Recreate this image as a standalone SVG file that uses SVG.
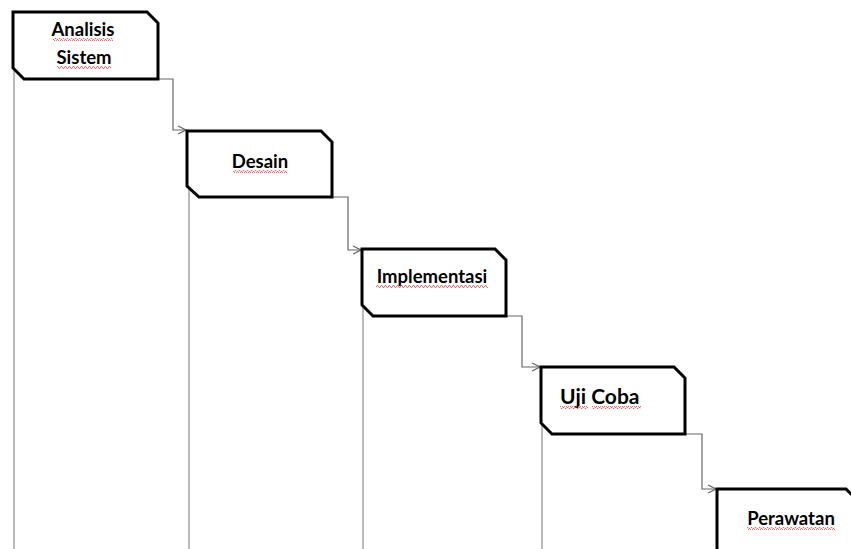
<svg xmlns="http://www.w3.org/2000/svg" width="851" height="549" viewBox="0 0 851 549">
<style>
.box{fill:#fff;stroke:#000;stroke-width:3;stroke-linejoin:miter}
.lbl{font-family:Lato,"Liberation Sans",sans-serif;font-weight:bold;font-size:18.5px;fill:#000}
.conn{fill:none;stroke:#666;stroke-width:1.2}
.drop{fill:none;stroke:#777;stroke-width:1}
.wavy{fill:url(#wave)}
</style>
<defs>
<marker id="arr" markerWidth="10" markerHeight="10" refX="9" refY="5" orient="auto" markerUnits="userSpaceOnUse">
<path d="M1,1 L9,5 L1,9" fill="none" stroke="#666" stroke-width="1.2"/>
</marker>
<pattern id="wave" width="4" height="3" patternUnits="userSpaceOnUse">
<polyline points="0,2.5 1,0.5 2,0.5 3,2.5 4,2.5" fill="none" stroke="#e05050" stroke-width="0.8"/>
</pattern>
</defs>
<rect width="851" height="549" fill="#fff"/>
<g id="connectors">
<path class="drop" d="M14,68 V549"/>
<path class="drop" d="M189,187 V549"/>
<path class="drop" d="M363,305 V549"/>
<path class="drop" d="M542,423 V549"/>
<path class="conn" d="M158,79 H173 V130 H186" marker-end="url(#arr)"/>
<path class="conn" d="M332,197 H348 V250 H361" marker-end="url(#arr)"/>
<path class="conn" d="M506,316 H522 V367 H540" marker-end="url(#arr)"/>
<path class="conn" d="M685,434 H702 V489 H716" marker-end="url(#arr)"/>
</g>
<g id="analisis">
<path class="box" d="M13,12 H147 L158,23 V79 H24 L13,68 Z"/>
<text class="lbl" x="83" y="36" text-anchor="middle" font-size="18">Analisis</text>
<text class="lbl" x="84" y="64" text-anchor="middle" font-size="18">Sistem</text>
<rect class="wavy" x="53" y="38" width="60" height="3"/>
<rect class="wavy" x="57" y="66" width="54" height="3"/>
</g>
<g id="desain">
<path class="box" d="M187,131 H321 L332,142 V197 H199 L187,186 Z"/>
<text class="lbl" x="260" y="168" text-anchor="middle">Desain</text>
<rect class="wavy" x="233" y="170" width="54" height="3"/>
</g>
<g id="implementasi">
<path class="box" d="M362,249 H495 L506,260 V316 H373 L362,305 Z"/>
<text class="lbl" x="432" y="283" text-anchor="middle">Implementasi</text>
<rect class="wavy" x="376" y="285" width="112" height="3"/>
</g>
<g id="ujicoba">
<path class="box" d="M541,367 H674 L685,378 V434 H552 L541,423 Z"/>
<text class="lbl" x="560" y="404" style="font-size:21px">Uji Coba</text>
<rect class="wavy" x="560" y="406" width="28" height="3"/>
<rect class="wavy" x="592" y="406" width="49" height="3"/>
</g>
<g id="perawatan">
<path class="box" d="M717,489 H846 L857,500 V560 H728 L717,549 Z"/>
<text class="lbl" x="791" y="525" text-anchor="middle">Perawatan</text>
<rect class="wavy" x="747" y="527" width="88" height="3"/>
</g>
</svg>
